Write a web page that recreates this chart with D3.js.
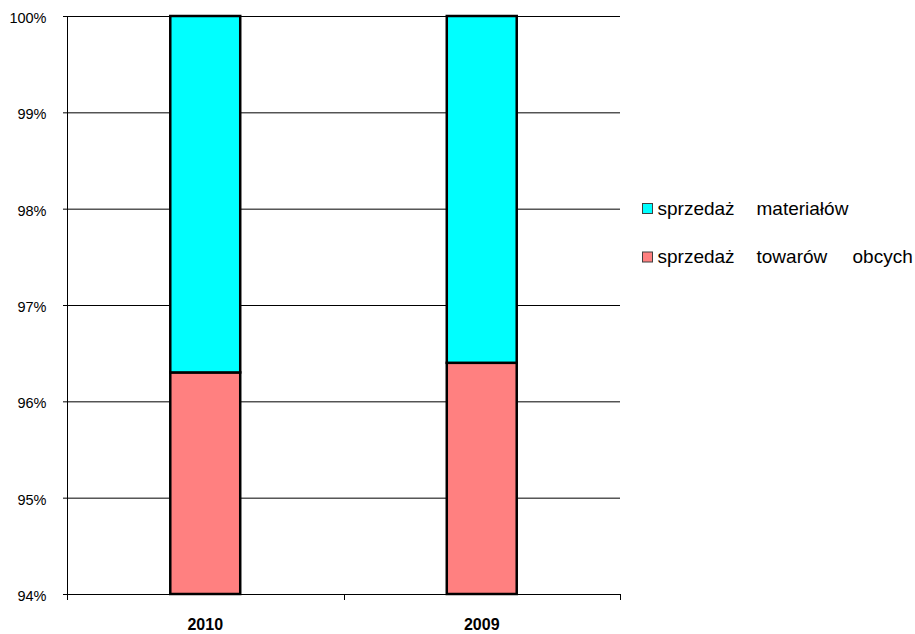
<!DOCTYPE html>
<html><head><meta charset="utf-8">
<script src="https://cdn.jsdelivr.net/npm/d3@7"></script>
<style>body{margin:0;background:#fff}svg{display:block;font-family:"Liberation Sans",Arial,sans-serif}</style>
</head><body>
<svg id="c" width="915" height="634"></svg>
<script>
const categories = ["2010", "2009"];
const towaryObce = [96.3, 96.4];
const materialy = [3.7, 3.6];
const seriesNames = ["sprzedaż towarów obcych", "sprzedaż materiałów"];
const yTicks = [94, 95, 96, 97, 98, 99, 100];

const svg = d3.select("#c");
const m = {l: 67, r: 620, t: 16, b: 594};
const x = d3.scaleBand().domain(categories).range([m.l, m.r]).paddingInner(0.747).paddingOuter(0.3735);
const y = d3.scaleLinear().domain([94, 100]).range([m.b, m.t]);

// gridlines
svg.append("g").selectAll("line").data(yTicks).join("line")
  .attr("x1", m.l - 4).attr("x2", m.r)
  .attr("y1", d => y(d) + 0.5).attr("y2", d => y(d) + 0.5)
  .attr("stroke", "#000").attr("stroke-width", 1);
// y axis line
svg.append("line").attr("x1", m.l + 0.5).attr("x2", m.l + 0.5).attr("y1", m.t).attr("y2", m.b)
  .attr("stroke", "#000");
// y labels
svg.append("g").selectAll("text").data(yTicks).join("text")
  .attr("x", 46.5).attr("y", d => y(d) + 7).attr("text-anchor", "end")
  .attr("font-size", 14.5).attr("fill", "#000").text(d => d + "%");
// x ticks
const bounds = [m.l, (m.l + m.r) / 2, m.r];
svg.append("g").selectAll("line").data(bounds).join("line")
  .attr("x1", d => Math.round(d) + 0.5).attr("x2", d => Math.round(d) + 0.5)
  .attr("y1", m.b).attr("y2", m.b + 6).attr("stroke", "#000");

const data = categories.map((c, i) => ({c, a: towaryObce[i], b: materialy[i]}));
// bars
const g = svg.append("g");
data.forEach(d => {
  g.append("rect").attr("x", x(d.c)).attr("width", x.bandwidth())
    .attr("y", y(d.a)).attr("height", y(94) - y(d.a))
    .attr("fill", "#ff8080").attr("stroke", "#000").attr("stroke-width", 2.5);
  g.append("rect").attr("x", x(d.c)).attr("width", x.bandwidth())
    .attr("y", y(d.a + d.b)).attr("height", y(d.a) - y(d.a + d.b))
    .attr("fill", "#00ffff").attr("stroke", "#000").attr("stroke-width", 2.5);
});
// x labels
svg.append("g").selectAll("text").data(categories).join("text")
  .attr("x", d => x(d) + x.bandwidth() / 2).attr("y", 630).attr("text-anchor", "middle")
  .attr("font-size", 16).attr("font-weight", "bold").text(d => d);

// legend
const legend = [
  {words: ["sprzedaż", "materiałów"], color: "#00ffff", y: 214.5},
  {words: ["sprzedaż", "towarów", "obcych"], color: "#ff8080", y: 263}
];
const wordX = [657.5, 756.5, 852.5];
legend.forEach(l => {
  svg.append("rect").attr("x", 642.5).attr("y", l.y - 11).attr("width", 10).attr("height", 10)
    .attr("fill", l.color).attr("stroke", "#404040").attr("stroke-width", 1);
  const t = svg.append("text").attr("y", l.y).attr("font-size", 19);
  l.words.forEach((w, i) => t.append("tspan").attr("x", wordX[i]).text(w));
});
</script>
</body></html>
